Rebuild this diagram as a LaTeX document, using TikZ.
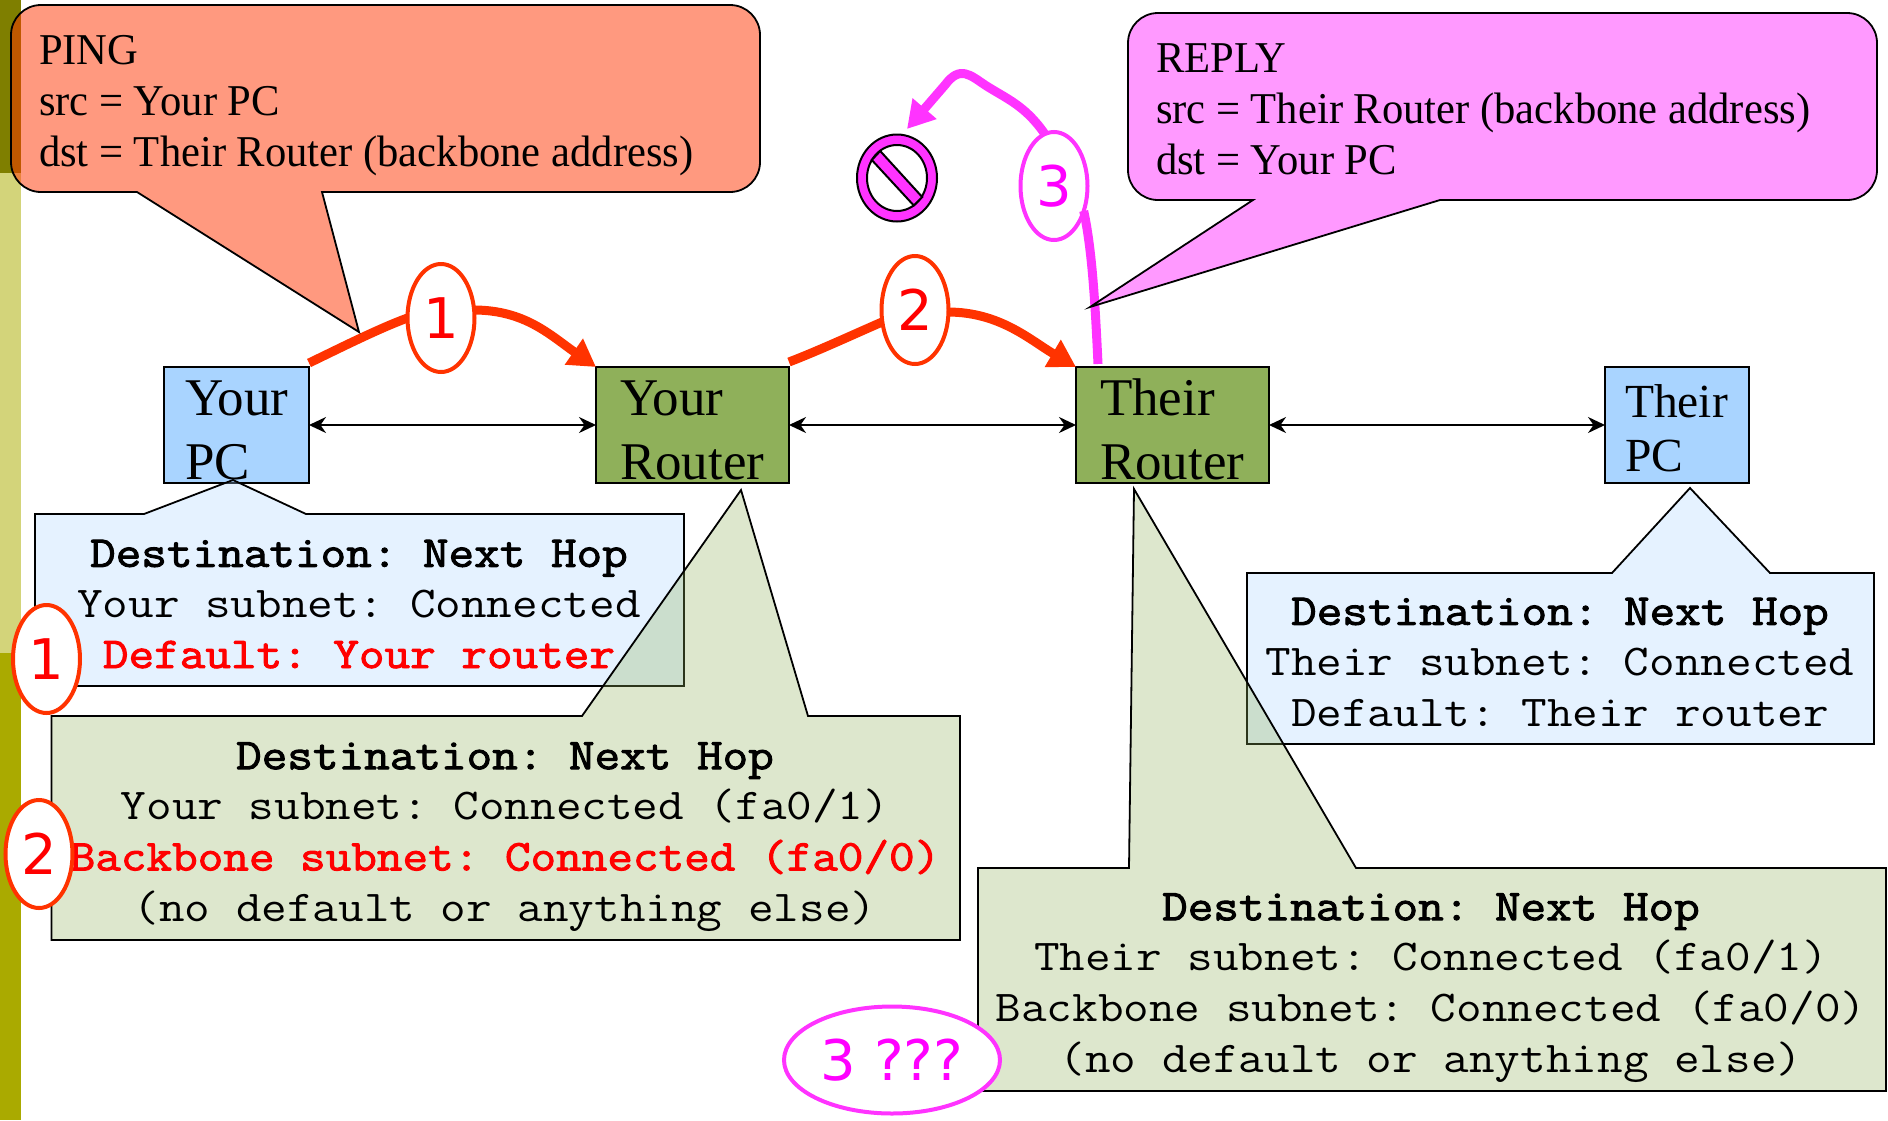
\documentclass[tikz,border=0pt]{standalone}
\usepackage{fontspec}
\setmainfont{Liberation Serif}
\newfontfamily\callfont[FakeStretch=.968]{Liberation Serif}
\newfontfamily\numfont{DejaVu Sans}
\newfontfamily\courfont[FakeStretch=1.13]{Latin Modern Mono}
\newfontfamily\courbold[FakeStretch=1.13,FakeBold=2.2]{Latin Modern Mono}
\usetikzlibrary{arrows.meta,shapes.geometric}
\definecolor{olivedark}{HTML}{7F7F00}
\definecolor{olivelight}{HTML}{D3D47A}
\definecolor{olivemid}{HTML}{AAAA00}
\definecolor{pingred}{HTML}{FF3300}
\definecolor{pinkm}{HTML}{FF33FF}
\definecolor{pinktext}{HTML}{FF00FF}
\definecolor{pcblue}{HTML}{A9D4FF}
\definecolor{rgreen}{HTML}{8FB05A}
\tikzset{
  x=1pt,y=-1pt,
  every node/.style={inner sep=0pt,outer sep=0pt},
  pcbox/.style={draw=black,line width=1.8pt,fill=pcblue},
  routerbox/.style={draw=black,line width=1.8pt,fill=rgreen},
  boxtext/.style={font=\fontsize{53}{64}\selectfont,align=left,anchor=base west,text=black},
  smalltext/.style={font=\fontsize{47.5}{54}\selectfont,align=left,anchor=base west,text=black},
  calltext/.style={font=\callfont\fontsize{44}{51}\selectfont,align=left,anchor=base west,text=black},
  tabletext/.style={font=\courfont\frenchspacing\fontsize{44}{50.6}\selectfont,align=center,anchor=base,text=black},
  link/.style={line width=1.8pt,black,{Stealth[length=17pt,width=16pt]}-{Stealth[length=17pt,width=16pt]}},
  redflow/.style={line width=9pt,pingred},
  pinkflow/.style={line width=9pt,pinkm},
  flowtip/.style={-{Triangle[length=27pt,width=30pt]}},
  redmark/.style={ellipse,draw=pingred,line width=4pt,fill=white,text=red,minimum width=67pt,minimum height=108pt,font=\numfont\fontsize{56}{56}\selectfont},
  pinkmark/.style={ellipse,draw=pinkm,line width=4pt,fill=white,text=pinktext,minimum width=67pt,minimum height=108pt,font=\numfont\fontsize{56}{56}\selectfont},
  redcall/.style={draw=black,line width=1.8pt,fill=pingred,fill opacity=.5},
  pinkcall/.style={draw=black,line width=1.8pt,fill=pinkm,fill opacity=.5},
  bluecall/.style={draw=black,line width=1.8pt,fill=pcblue,fill opacity=.3},
  greencall/.style={draw=black,line width=1.8pt,fill=rgreen,fill opacity=.3},
}
\newcommand{\hd}{\courbold Destination: Next Hop}
\begin{document}
\begin{tikzpicture}
\useasboundingbox (0,0) rectangle (1888,1120);
% side bar
\fill[olivedark] (0,0) rectangle (21,173);
\fill[olivelight] (0,173) rectangle (21,653);
\fill[olivemid] (0,653) rectangle (21,1120);
% boxes
\node[pcbox,minimum width=145pt,minimum height=116pt] (yourpc) at (236.5,425) {};
\node[routerbox,minimum width=193pt,minimum height=116pt] (yourrouter) at (692.5,425) {};
\node[routerbox,minimum width=193pt,minimum height=116pt] (theirrouter) at (1172.5,425) {};
\node[pcbox,minimum width=144pt,minimum height=116pt] (theirpc) at (1677,425) {};
\node[boxtext] (t1) at (185,479) {Your\\PC};
\node[boxtext] (t2) at (620,479) {Your\\Router};
\node[boxtext] (t3) at (1100,479) {Their\\Router};
\node[smalltext] (t4) at (1625,471) {Their\\PC};
% links
\draw[link] (yourpc.east) -- (yourrouter.west);
\draw[link] (yourrouter.east) -- (theirrouter.west);
\draw[link] (theirrouter.east) -- (theirpc.west);
% flow marks
\node[redmark] (m1) at (441,318) {1};
\node[redmark] (m2) at (915,310) {2};
\node[pinkmark] (m3) at (1054,186) {3};
% forbidden sign
\node[ellipse,draw=black,line width=2pt,fill=pinkm,minimum width=80pt,minimum height=87pt] (stopsign) at (897,178) {};
\node[ellipse,draw=black,line width=2pt,fill=white,minimum width=60pt,minimum height=66pt] (stopinner) at (897,178) {};
\draw[line width=2pt,fill=pinkm] (880.2,151) -- (922.2,197) -- (913.8,205.5) -- (871.8,160) -- cycle;
\coordinate (stoptip) at (907,129);
% flow curves
\draw[redflow] (yourpc.north east) ++(0,-4) coordinate (s1) .. controls (340,348) and (380,328) .. (m1.west);
\draw[redflow,flowtip] (m1.east) ++(-1,-8) coordinate (s1b) .. controls (525,310) and (550,335) .. (yourrouter.north west);
\draw[redflow] (yourrouter.north east) ++(0,-5) coordinate (s2) .. controls (820,350) and (850,336) .. (m2.200);
\draw[redflow,flowtip] (m2.east) ++(-1,2) coordinate (s2b) .. controls (1000,312) and (1030,340) .. (theirrouter.north west);
\draw[pinkflow] (theirrouter.north west) ++(22,-3) coordinate (s3) .. controls (1095,300) and (1092,250) .. (m3.-40);
\draw[pinkflow,flowtip] (m3.100) .. controls (1025,105) and (1005,98) .. (985,85) .. controls (970,75) and (960,65) .. (945,85) -- (stoptip);
% callouts
\draw[redcall] (322,192) [rounded corners=30pt] -- (760,192) -- (760,5) -- (11,5) -- (11,192) [sharp corners] -- (137,192) -- (359,332) -- cycle;
\node[calltext] (pingtext) at (39,166) {PING\\src = Your PC\\dst = Their Router (backbone address)};
\draw[pinkcall] (1440,200) [rounded corners=30pt] -- (1877,200) -- (1877,13) -- (1128,13) -- (1128,200) [sharp corners] -- (1253,200) -- (1090,307) -- cycle;
\node[calltext] (replytext) at (1156,174) {REPLY\\src = Their Router (backbone address)\\dst = Your PC};
\draw[bluecall] (35,514) -- (144,514) -- (233,480) -- (306,514) -- (684,514) -- (684,686) -- (35,686) -- cycle;
\node[tabletext] (tb1) at (359,668) {{\hd}\\Your subnet: Connected\\\textcolor{red}{\courbold Default: Your router}};
\draw[greencall] (51.5,716) -- (582,716) -- (741,490) -- (808,716) -- (960,716) -- (960,940) -- (51.5,940) -- cycle;
\node[tabletext] (tb2) at (505,921) {{\hd}\\Your subnet: Connected (fa0/1)\\\textcolor{red}{\courbold Backbone subnet: Connected (fa0/0)}\\(no default or anything else)};
\draw[bluecall] (1247,573) -- (1612,573) -- (1690,488) -- (1770,573) -- (1874,573) -- (1874,744) -- (1247,744) -- cycle;
\node[tabletext] (tb3) at (1560,726) {{\hd}\\Their subnet: Connected\\Default: Their router};
\draw[greencall] (978,868) -- (1129,868) -- (1134,489) -- (1356,868) -- (1886,868) -- (1886,1091) -- (978,1091) -- cycle;
\node[tabletext] (tb4) at (1431,1072) {{\hd}\\Their subnet: Connected (fa0/1)\\Backbone subnet: Connected (fa0/0)\\(no default or anything else)};
% side marks
\node[redmark] (m4) at (46.5,659) {1};
\node[redmark] (m5) at (39,854) {2};
\node[pinkmark,minimum width=216pt,minimum height=107pt] (m6) at (892,1060) {3 ???};
\end{tikzpicture}
\end{document}
